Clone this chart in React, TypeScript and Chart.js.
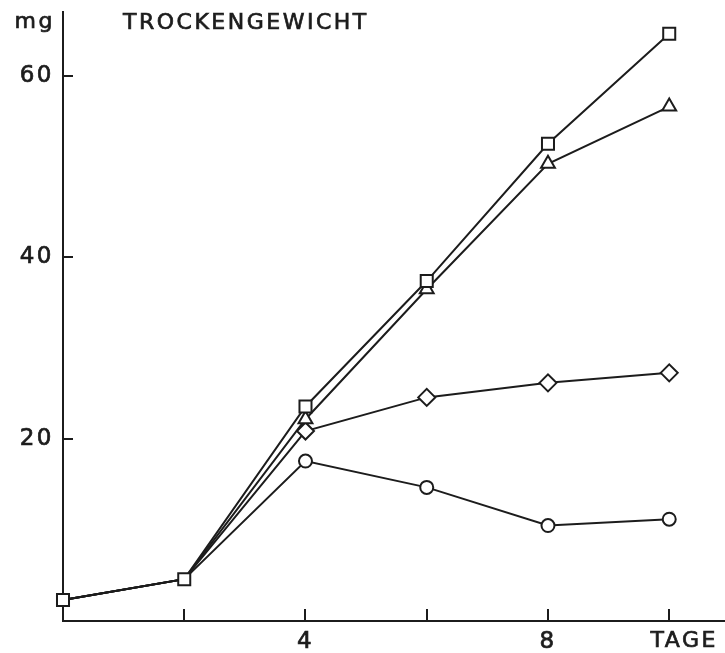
import React, { useEffect, useRef } from 'react';
import { Chart, registerables } from 'chart.js';

Chart.register(...registerables);

// ---- data ----
const days = [0, 2, 4, 6, 8, 10];
const squareSeries = [2.3, 4.6, 23.6, 37.4, 52.5, 64.6];
const triangleSeries = [2.3, 4.6, 22.2, 36.5, 50.3, 56.6];
const diamondSeries = [2.3, 4.6, 20.9, 24.6, 26.2, 27.3];
const circleSeries = [2.3, 4.6, 17.6, 14.7, 10.5, 11.2];
const xTickValues = [2, 4, 6, 8, 10];
const xTickLabels = ['', '4', '', '8', ''];
const yTickValues = [20, 40, 60];
const yTickLabels = ['20', '40', '60'];
const yUnit = 'mg';
const xUnit = 'TAGE';
const chartTitle = 'TROCKENGEWICHT';

const INK = '#1c1c1c';
const FONT_FAMILY = '"DejaVu Sans", sans-serif';
const FONT_SIZE = 22;
const TICK_FONT_SIZE = 23;
const SPACING = '2.5px';

const toPoints = (vals: number[]) => vals.map((v, i) => ({ x: days[i], y: v }));

const drawBoldText = (ctx: any, text: string, x: number, y: number) => {
  ctx.fillText(text, x, y);
  ctx.strokeText(text, x, y);
};

const decor = {
  id: 'decor',
  beforeDraw(chart: any) {
    const ctx = chart.ctx as any;
    ctx.letterSpacing = SPACING;
  },
  beforeDatasetsDraw(chart: any) {
    const { ctx, chartArea, scales } = chart;
    const x = scales.x;
    const y = scales.y;
    ctx.save();
    ctx.strokeStyle = INK;
    ctx.lineWidth = 2;
    ctx.beginPath();
    yTickValues.forEach((v) => {
      const py = Math.round(y.getPixelForValue(v));
      ctx.moveTo(chartArea.left, py);
      ctx.lineTo(chartArea.left + 10, py);
    });
    xTickValues.forEach((v) => {
      const px = Math.round(x.getPixelForValue(v));
      ctx.moveTo(px, chartArea.bottom);
      ctx.lineTo(px, chartArea.bottom - 12);
    });
    ctx.stroke();
    ctx.restore();
  },
  afterDraw(chart: any) {
    const { ctx, chartArea, scales } = chart;
    const x = scales.x;
    ctx.save();
    (ctx as any).letterSpacing = SPACING;
    ctx.fillStyle = INK;
    ctx.strokeStyle = INK;
    ctx.lineWidth = 0.7;
    ctx.font = `${FONT_SIZE}px ${FONT_FAMILY}`;
    ctx.textBaseline = 'middle';
    ctx.textAlign = 'right';
    drawBoldText(ctx, yUnit, chartArea.left - 8, 22);
    ctx.textAlign = 'left';
    drawBoldText(ctx, chartTitle, chartArea.left + 60, 23);
    ctx.textAlign = 'center';
    drawBoldText(ctx, xUnit, x.getPixelForValue(10) + 15, chartArea.bottom + 20);
    ctx.restore();
  },
};

export default function App() {
  const ref = useRef<HTMLCanvasElement | null>(null);

  useEffect(() => {
    document.body.style.margin = '0';
    document.body.style.background = '#ffffff';
    const canvas = ref.current;
    if (!canvas) return;

    const markerCommon = {
      borderColor: INK,
      backgroundColor: INK,
      pointBackgroundColor: '#ffffff',
      pointBorderColor: INK,
      pointBorderWidth: 2,
      borderWidth: 2,
      tension: 0,
      fill: false,
      clip: false,
    };
    const hideFirst = (r: number) => days.map((_, i) => (i < 2 ? 0 : r));

    const chart = new Chart(canvas, {
      type: 'line',
      data: {
        datasets: [
          {
            ...markerCommon,
            label: 'square',
            data: toPoints(squareSeries),
            pointStyle: 'rect',
            pointRadius: 8.5,
          },
          {
            ...markerCommon,
            label: 'triangle',
            data: toPoints(triangleSeries),
            pointStyle: 'triangle',
            pointRadius: hideFirst(8),
          },
          {
            ...markerCommon,
            label: 'diamond',
            data: toPoints(diamondSeries),
            pointStyle: 'rectRot',
            pointRadius: hideFirst(8.5),
          },
          {
            ...markerCommon,
            label: 'circle',
            data: toPoints(circleSeries),
            pointStyle: 'circle',
            pointRadius: hideFirst(6.5),
          },
        ] as any,
      },
      options: {
        animation: false,
        responsive: false,
        devicePixelRatio: 1,
        layout: { autoPadding: false, padding: { top: 12, right: 0, left: 0, bottom: 0 } },
        plugins: {
          legend: { display: false },
          tooltip: { enabled: false },
          title: { display: false },
        },
        scales: {
          x: {
            type: 'linear',
            min: 0,
            max: 10.92,
            grid: { display: false, drawTicks: false },
            border: { display: true, color: INK, width: 2 },
            afterBuildTicks: (scale: any) => {
              scale.ticks = xTickValues.map((v) => ({ value: v }));
            },
            afterFit: (scale: any) => {
              scale.height = 32;
              scale.paddingLeft = 0;
              scale.paddingRight = 0;
            },
            ticks: {
              padding: 7,
              color: INK,
              textStrokeColor: INK,
              textStrokeWidth: 0.7,
              font: { family: FONT_FAMILY, size: TICK_FONT_SIZE },
              maxRotation: 0,
              autoSkip: false,
              callback: (v: any) => {
                const i = xTickValues.indexOf(Number(v));
                return i >= 0 ? xTickLabels[i] : '';
              },
            },
          },
          y: {
            type: 'linear',
            min: 0,
            max: 67,
            grid: { display: false, drawTicks: false },
            border: { display: true, color: INK, width: 2 },
            afterBuildTicks: (scale: any) => {
              scale.ticks = yTickValues.map((v) => ({ value: v }));
            },
            afterFit: (scale: any) => {
              scale.width = 63;
              scale.paddingTop = 0;
              scale.paddingBottom = 0;
            },
            ticks: {
              padding: 9,
              color: INK,
              textStrokeColor: INK,
              textStrokeWidth: 0.7,
              font: { family: FONT_FAMILY, size: TICK_FONT_SIZE },
              autoSkip: false,
              callback: (v: any) => {
                const i = yTickValues.indexOf(Number(v));
                return i >= 0 ? yTickLabels[i] : '';
              },
            },
          },
        },
      },
      plugins: [decor],
    } as any);

    return () => chart.destroy();
  }, []);

  return (
    <div style={{ position: 'fixed', left: 0, top: 0, width: 725, height: 653, background: '#fff' }}>
      <canvas ref={ref} width={725} height={653} style={{ width: 725, height: 653, display: 'block' }} />
    </div>
  );
}
